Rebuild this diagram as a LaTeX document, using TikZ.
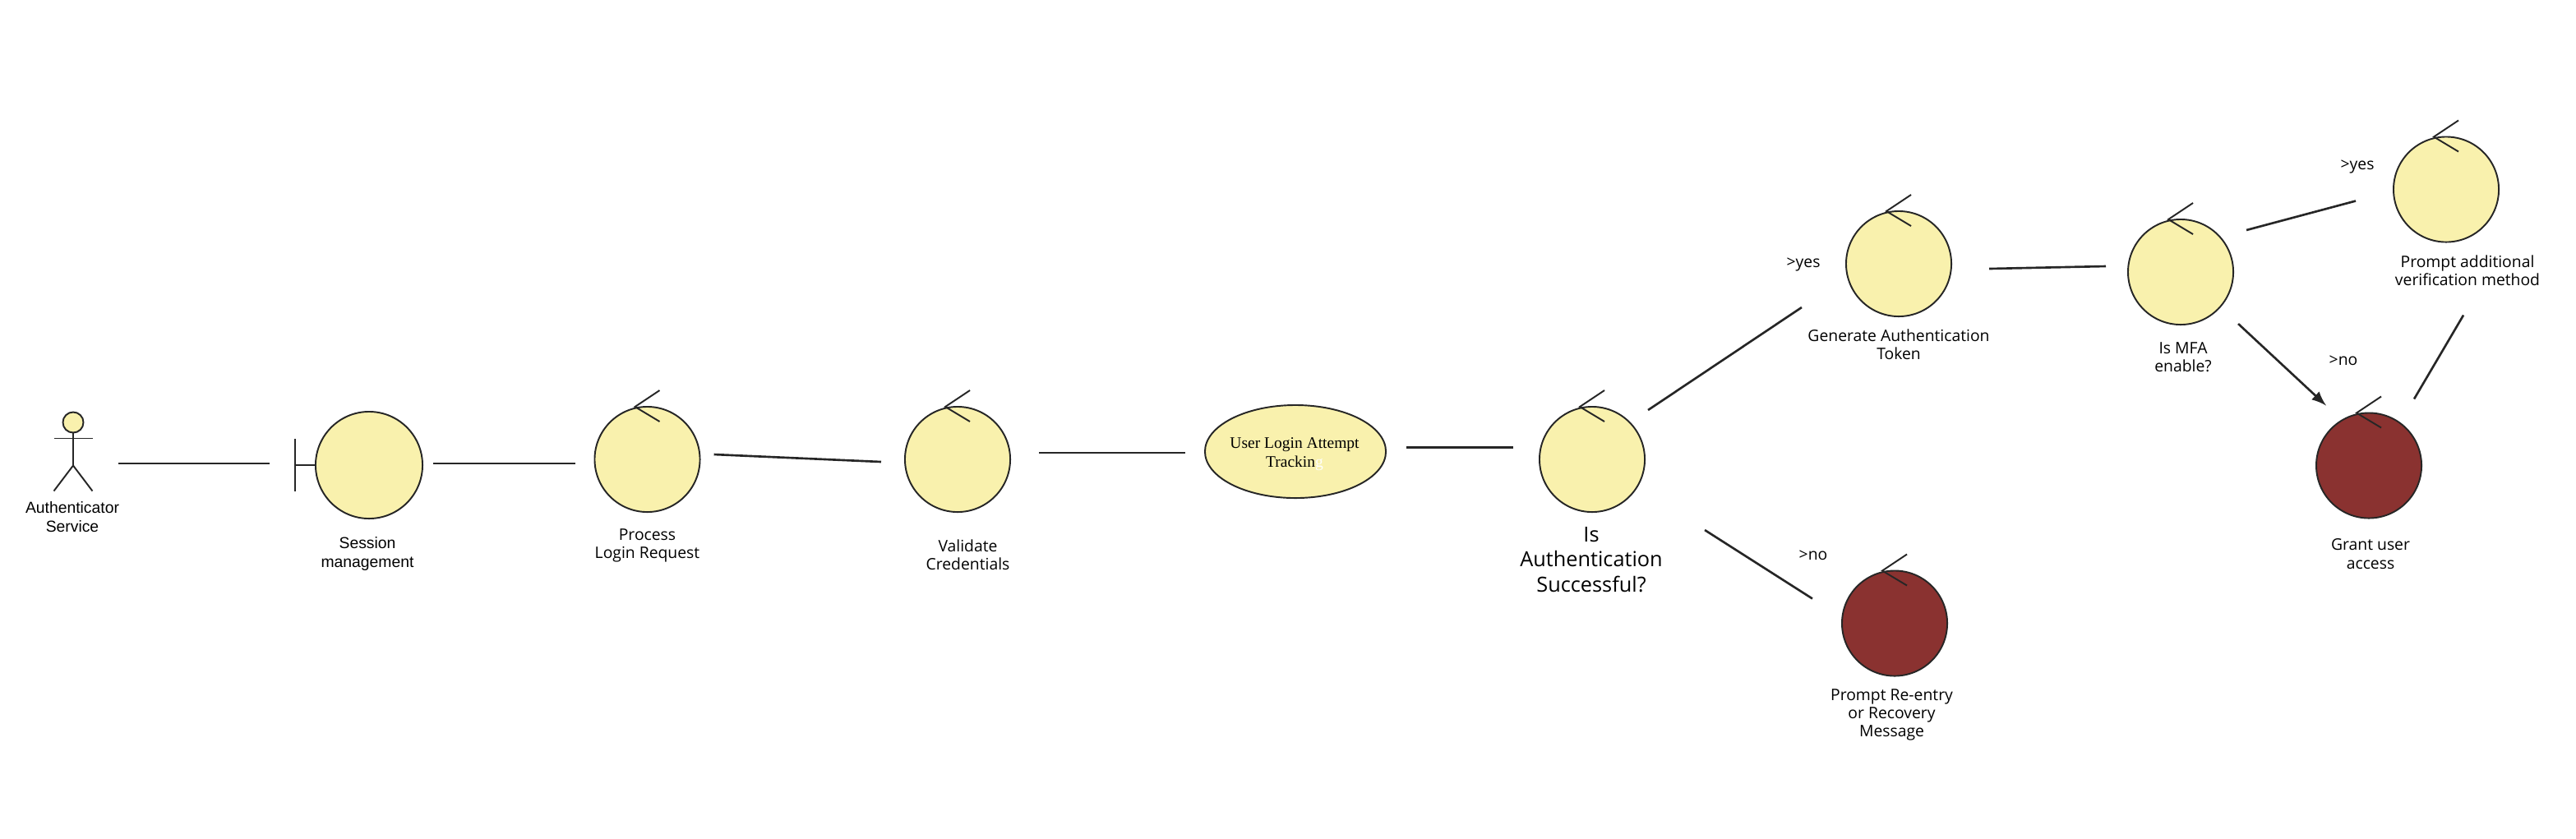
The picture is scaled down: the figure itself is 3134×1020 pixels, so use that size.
\documentclass[tikz,border=0pt]{standalone}
\usepackage{fontspec}
\setmainfont{Open Sans}
\newfontfamily\arialfont{Liberation Sans}
\newfontfamily\timesfont{Liberation Serif}
\usetikzlibrary{shapes,arrows,positioning}
\definecolor{ctrlyellow}{HTML}{F9F1AD}
\definecolor{ctrlred}{HTML}{8A3230}
\tikzset{
  ctrl/.style={draw=black!85,fill=ctrlyellow,circle,inner sep=0pt,outer sep=0pt,line width=0.55pt,minimum size=1.28cm},
  ctrlend/.style={ctrl,fill=ctrlred},
  tick/.style={draw=black!85,line width=0.55pt},
  conn/.style={draw=black!85,line width=0.75pt},
  lbl/.style={inner sep=0pt,align=center,text=black,font=\fontsize{5.5}{6.3}\selectfont},
  lblbig/.style={lbl,font=\fontsize{7.2}{8.7}\selectfont},
  lblsans/.style={lbl,font=\arialfont\fontsize{5.5}{6.3}\selectfont},
}
\begin{document}
\begin{tikzpicture}[x=0.01cm,y=-0.01cm]
		\useasboundingbox (0,0) rectangle (3134,1020);
		%% the actor
		\node[ctrl,minimum size=0.25cm] (actorH) at (89,514) {};
		\draw[tick] (actorH.south) -- ++(0,40) -- ++(-23.5,31) (actorH.south) ++(0,40) -- ++(23.5,31);
		\draw[tick] ([shift={(-23.5,7)}]actorH.south) -- ([shift={(23.5,7)}]actorH.south);
		\node[lblsans] (actorL) at (88,629) {Authenticator\\Service};
		%% the boundary
		\node[ctrl,minimum size=1.3cm] (sessC) at (449,566) {};
		\draw[tick] (sessC.west) -- ++(-25,0) ++(0,-32) -- ++(0,64);
		\node[lblsans] (sessL) at (447,674) {Session\\management};
		%% the controls
		\node[ctrl] (procC) at (787.5,559) {};
		\node[ctrl] (valC) at (1165,559) {};
		\node[ctrl] (authC) at (1937,559) {};
		\node[ctrl] (tokC) at (2310,321) {};
		\node[ctrl] (mfaC) at (2653,331) {};
		\node[ctrl] (addC) at (2976,230.5) {};
		\node[ctrlend] (retryC) at (2305,758.5) {};
		\node[ctrlend] (grantC) at (2882,566.5) {};
		\foreach \n in {procC,valC,authC,tokC,mfaC,addC,retryC,grantC}
			\draw[tick] ([shift={(15,-84)}]\n.center) -- ([shift={(-15,-64)}]\n.center) -- ([shift={(15,-46)}]\n.center);
		%% the entity
		\node[ctrl,ellipse,minimum width=2.2cm,minimum height=1.13cm] (trackE) at (1576,549.5) {};
		\node[lbl,font=\timesfont\fontsize{5.55}{6.5}\selectfont] (trackL) at (1575,553) {User Login Attempt\\Trackin\textcolor{white}{g}};
		%% the labels
		\node[lbl] (procL) at (787.5,664) {Process\\Login Request};
		\node[lbl] (valL) at (1177.5,675) {Validate\\Credentials};
		\node[lblbig] (authL) at (1936,681) {Is\\Authentication\\Successful?};
		\node[lbl] (tokL) at (2310,419) {Generate Authentication\\Token};
		\node[lbl] (mfaL) at (2656,435) {Is MFA\\enable?};
		\node[lbl] (addL) at (3002,329) {Prompt additional\\verification method};
		\node[lbl] (retryL) at (2301.5,870) {Prompt Re-entry\\or Recovery\\Message};
		\node[lbl] (grantL) at (2884,674) {Grant user\\access};
		\node[lbl] (yesA) at (2194,322) {>yes};
		\node[lbl] (noA) at (2206,676) {>no};
		\node[lbl] (yesB) at (2868,203) {>yes};
		\node[lbl] (noB) at (2851,439) {>no};
		%% the connectors
		\draw[conn] ([shift={(55,50)}]actorH.center) -- ([shift={(-56,-2)}]sessC.west);
		\draw[conn] ([shift={(13,-2)}]sessC.east) -- ([shift={(-23,5)}]procC.west);
		\draw[conn] ([shift={(17,-6)}]procC.east) -- ([shift={(-29,3)}]valC.west);
		\draw[conn] ([shift={(35,-8)}]valC.east) -- ([shift={(-24,1.5)}]trackE.west);
		\draw[conn] ([shift={(25,-5)}]trackE.east) -- ([shift={(-32,-14.5)}]authC.west);
		\draw[conn] ([shift={(4,-60)}]authC.east) -- ([shift={(-54,53)}]tokC.west);
		\draw[conn] ([shift={(73,86)}]authC.east) -- ([shift={(-36,-30)}]retryC.west);
		\draw[conn] ([shift={(46,6)}]tokC.east) -- ([shift={(-27,-7)}]mfaC.west);
		\draw[conn] ([shift={(16,-51)}]mfaC.east) -- ([shift={(-46,14)}]addC.west);
		\draw[conn] ([shift={(-43,153)}]addC.east) -- ([shift={(-9,-81)}]grantC.east);
		\draw[conn,-latex] ([shift={(6,63)}]mfaC.east) -- ([shift={(12,-73)}]grantC.west);
\end{tikzpicture}
\end{document}
